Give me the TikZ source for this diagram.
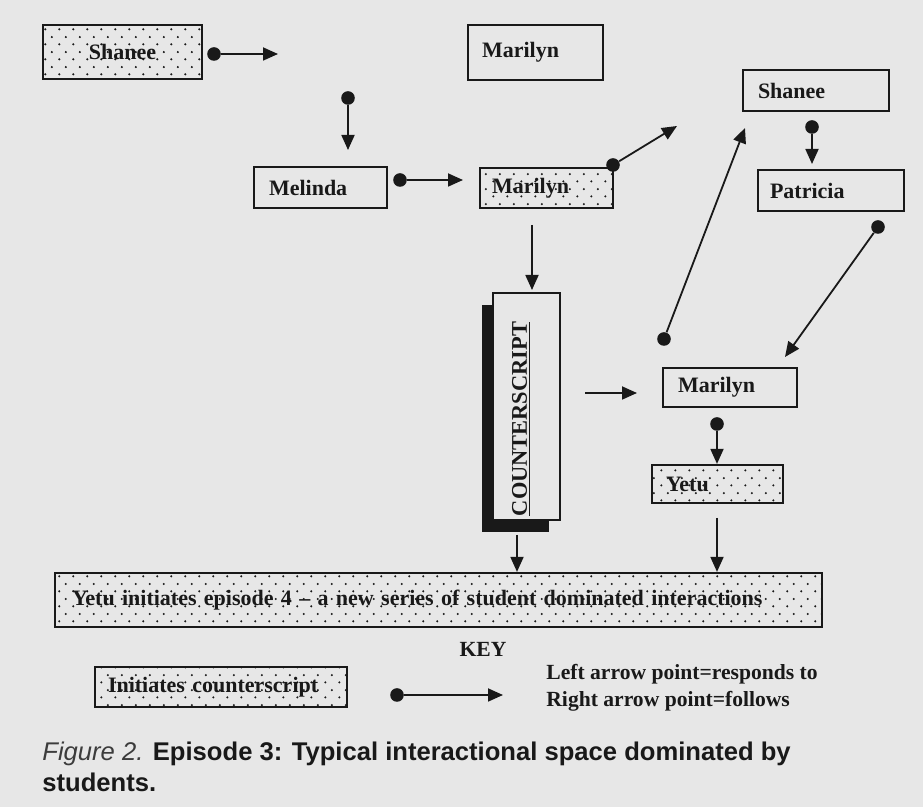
\documentclass[tikz,border=0pt]{standalone}
\usepackage{fontspec}
\setmainfont{Liberation Serif}
\newfontfamily\capfont{Liberation Sans}
\usetikzlibrary{arrows.meta,patterns,shadows}
\definecolor{paper}{RGB}{231,231,231}
\definecolor{ink}{RGB}{25,25,25}
\definecolor{capgray}{RGB}{60,60,60}
\newcommand\ndfont{\bfseries\fontsize{11}{13}\selectfont}
\newcommand\keyfont{\bfseries\fontsize{10.8}{13}\selectfont}
\pgfdeclarepatternformonly{sparsedots}{\pgfqpoint{0pt}{0pt}}{\pgfqpoint{7pt}{7.6pt}}{\pgfqpoint{7pt}{7.6pt}}{%
  \pgfpathcircle{\pgfqpoint{1.75pt}{1.9pt}}{0.6pt}%
  \pgfpathcircle{\pgfqpoint{5.25pt}{5.7pt}}{0.6pt}%
  \pgfusepath{fill}}
\tikzset{
  box/.style={draw=ink, line width=1.1pt, inner xsep=0pt, inner ysep=0pt,
    align=left, font=\ndfont, text=ink},
  dotted box/.style={box, pattern=sparsedots, pattern color=ink},
  arr/.style={draw=ink, line width=0.9pt, -{Triangle[length=7.5pt,width=6.5pt]}},
  dotn/.style={circle, fill=ink, inner sep=0pt, minimum size=6.8pt},
  lbl/.style={font=\keyfont, text=ink, inner sep=0pt}
}
\begin{document}
\begin{tikzpicture}[x=0.5pt,y=-0.5pt]
\fill[paper] (0,0) rectangle (923,807);
\useasboundingbox (0,0) rectangle (923,807);

% boxes
\node[dotted box, align=center, text width=79.5pt, minimum height=27pt] (sh1) at (122.5,52) {Shanee};
\node[box, text width=67.5pt, minimum height=27.5pt] (m1) at (535.5,52.5) {\hspace*{7pt}Marilyn};
\node[box, text width=66.5pt, minimum height=20.5pt] (mel) at (320.5,187.5) {\hspace*{7.5pt}Melinda};
\node[dotted box, text width=66.5pt, minimum height=20pt] (m2) at (546.5,188) {\hspace*{6pt}Marilyn};
\node[box, text width=73pt, minimum height=20.5pt] (sh2) at (816,90.5) {\hspace*{7.5pt}Shanee};
\node[box, text width=73pt, minimum height=20.5pt] (pat) at (831,190.5) {\hspace*{6pt}Patricia};
\node[box, fill=paper, minimum width=33.5pt, minimum height=113.5pt,
  drop shadow={shadow xshift=-5.5pt, shadow yshift=-6pt, fill=ink, opacity=1}] (cs) at (526.5,406.5) {};
\node[lbl, font=\bfseries\fontsize{11.2}{13}\selectfont, rotate=90] (cst) at (521.5,419) {\underline{COUNTERSCRIPT}};
\node[box, text width=67pt, minimum height=19.5pt] (m3) at (730,387.5) {\hspace*{7.5pt}Marilyn};
\node[dotted box, text width=65.5pt, minimum height=19pt] (yetu) at (717.5,484) {\hspace*{7pt}Yetu};
\node[dotted box, text width=383.5pt, minimum height=27pt] (big) at (438.5,600) {\hspace*{8.5pt}Yetu initiates episode 4 -- a new series of student dominated interactions};

% key
\node[lbl, anchor=base] (key) at (483,657) {KEY};
\node[dotted box, text width=126pt, minimum height=20pt] (init) at (221,687) {\hspace*{6.5pt}Initiates counterscript};
\node[lbl, anchor=base west] (k1) at (546,680) {Left arrow point=responds to};
\node[lbl, anchor=base west] (k2) at (546,707) {Right arrow point=follows};

% dots (arrow starts) and free arrow ends
\node[dotn] (d1) at (214,54) {};
\coordinate (t1) at (278,54);
\node[dotn] (d2) at (348,98) {};
\coordinate (t2) at (348,150);
\node[dotn] (d3) at (400,180) {};
\coordinate (t3) at (463,180);
\node[dotn] (d4) at (613,165) {};
\coordinate (t4) at (677,126);
\coordinate (s5) at (532,225);
\coordinate (t5) at (532,290);
\node[dotn] (d6) at (664,339) {};
\coordinate (t6) at (745,128);
\node[dotn] (d7) at (812,127) {};
\coordinate (t7) at (812,164);
\node[dotn] (d8) at (878,227) {};
\coordinate (t8) at (785,357);
\coordinate (s9) at (585,393);
\coordinate (t9) at (637,393);
\node[dotn] (d10) at (717,424) {};
\coordinate (s11) at (717,518);
\coordinate (s12) at (517,535);
\node[dotn] (dk) at (397,695) {};
\coordinate (tk) at (503,695);

% connectors
\draw[arr] (d1) -- (t1);
\draw[arr] (d2) -- (t2);
\draw[arr] (d3) -- (t3);
\draw[arr] (d4) -- (t4);
\draw[arr] (s5) -- (t5);
\draw[arr] (d6) -- (t6);
\draw[arr] (d7) -- (t7);
\draw[arr] (d8) -- (t8);
\draw[arr] (s9) -- (t9);
\draw[arr] (d10) -- (yetu.north -| d10);
\draw[arr] (s11) -- (big.north -| s11);
\draw[arr] (s12) -- (big.north -| s12);
\draw[arr] (dk) -- (tk);

% caption
\node[anchor=base west, inner sep=0pt, font=\capfont\fontsize{12.8}{15}\selectfont] (cap1) at (42,761)
  {\textcolor{capgray}{\itshape Figure 2.} \textcolor{ink}{\bfseries Episode 3: Typical interactional space dominated by}};
\node[anchor=base west, inner sep=0pt, font=\capfont\bfseries\fontsize{12.8}{15}\selectfont, text=ink] (cap2) at (42,792)
  {students.};
\end{tikzpicture}
\end{document}
